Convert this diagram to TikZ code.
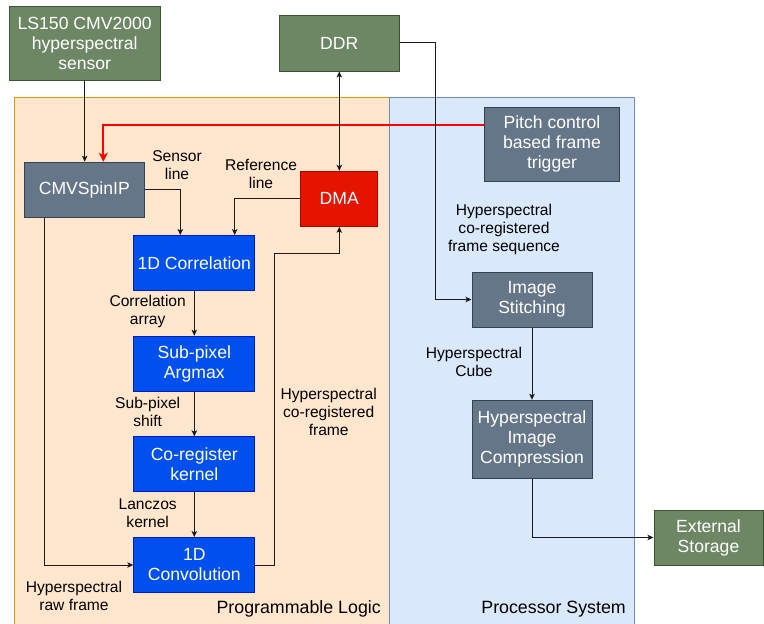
\documentclass[tikz,border=0pt]{standalone}
\usepackage{fontspec}
\setmainfont{Liberation Sans}
\usetikzlibrary{arrows.meta}

\definecolor{gfill}{HTML}{6D8764}
\definecolor{gline}{HTML}{3A5431}
\definecolor{sfill}{HTML}{647687}
\definecolor{sline}{HTML}{314354}
\definecolor{bfill}{HTML}{0050EF}
\definecolor{bline}{HTML}{001DBC}
\definecolor{rfill}{HTML}{E51400}
\definecolor{rline}{HTML}{B20000}
\definecolor{plfill}{HTML}{FFE6CC}
\definecolor{plline}{HTML}{D79B00}
\definecolor{psfill}{HTML}{DAE8FC}
\definecolor{psline}{HTML}{6C8EBF}
\definecolor{trig}{HTML}{FF0000}

\tikzset{
  blk/.style={rectangle, draw, line width=1pt, text=white, align=center,
    font=\fontsize{17.6}{20}\selectfont, inner sep=0pt},
  greenbox/.style={blk, fill=gfill, draw=gline},
  slatebox/.style={blk, fill=sfill, draw=sline},
  bluebox/.style={blk, fill=bfill, draw=bline, minimum width=121pt, minimum height=55pt},
  redbox/.style={blk, fill=rfill, draw=rline},
  lbl/.style={align=center, text=black, font=\fontsize{15.6}{18}\selectfont, inner sep=0pt},
  title/.style={text=black, font=\fontsize{17.8}{20}\selectfont, inner sep=0pt},
  conn/.style={draw=black!90, line width=0.9pt, -{Stealth[length=6pt,width=5.5pt,inset=1.5pt]}},
  biconn/.style={draw=black!90, line width=0.9pt, {Stealth[length=6pt,width=5.5pt,inset=1.5pt]}-{Stealth[length=6pt,width=5.5pt,inset=1.5pt]}},
  trigconn/.style={draw=trig, line width=2pt, -{Stealth[length=9pt,width=9pt,inset=2.5pt]}}
}

\begin{document}
\begin{tikzpicture}[x=1pt, y=-1pt]
\useasboundingbox (0,0) rectangle (764,624);

% regions
\fill[plfill] (14,97.5) rectangle (389,640);
\draw[plline, line width=1pt] (14,640) -- (14,97.5) -- (389,97.5) -- (389,640);
\fill[psfill] (389,97.5) rectangle (634,640);
\draw[psline, line width=1pt] (389,640) -- (389,97.5) -- (634,97.5) -- (634,640);
\node[title, anchor=east] (pltitle) at (381,609.3) {Programmable Logic};
\node[title, anchor=east] (pstitle) at (626,609.3) {Processor System};

% blocks
\node[greenbox, minimum width=151pt, minimum height=74pt] (sensor) at (84.7,43) {LS150 CMV2000\\hyperspectral\\sensor};
\node[greenbox, minimum width=120pt, minimum height=56pt] (ddr) at (339.3,43) {DDR};
\node[slatebox, minimum width=135pt, minimum height=74pt] (pitch) at (552,144) {Pitch control\\based frame\\trigger};
\node[slatebox, minimum width=120pt, minimum height=55pt] (cmv) at (84.3,189.7) {CMVSpinIP};
\node[redbox, minimum width=77pt, minimum height=55pt] (dma) at (339.3,198.8) {DMA};
\node[bluebox] (corr) at (194.3,263) {1D Correlation};
\node[bluebox] (argmax) at (194.3,363.7) {Sub-pixel\\Argmax};
\node[bluebox] (coreg) at (194.3,464.3) {Co-register\\kernel};
\node[bluebox] (conv) at (194.3,565) {1D\\Convolution};
\node[slatebox, minimum width=120pt, minimum height=55pt] (stitch) at (532,299.5) {Image\\Stitching};
\node[slatebox, minimum width=120pt, minimum height=78pt] (compress) at (532,439.3) {Hyperspectral\\Image\\Compression};
\node[greenbox, minimum width=109pt, minimum height=55pt] (ext) at (708.5,537.5) {External\\Storage};

% connector labels
\node[lbl] (lsensor) at (177,165) {Sensor\\line};
\node[lbl] (lref) at (261,174) {Reference\\line};
\node[lbl] (lcorr) at (147.7,311.5) {Correlation\\array};
\node[lbl] (lshift) at (147.7,412) {Sub-pixel\\shift};
\node[lbl] (llanc) at (147.7,513) {Lanczos\\kernel};
\node[lbl] (lraw) at (74,595.7) {Hyperspectral\\raw frame};
\node[lbl] (lcoframe) at (328.7,412.3) {Hyperspectral\\co-registered\\frame};
\node[lbl] (lseq) at (504,229.2) {Hyperspectral\\co-registered\\frame sequence};
\node[lbl] (lcube) at (474,362) {Hyperspectral\\Cube};

% connectors
\coordinate (trigbend) at (103.3,125.3);
\draw[trigconn] (pitch.west |- trigbend) -- (trigbend) -- (trigbend |- cmv.north);
\draw[conn] (sensor.south) -- (sensor.south |- cmv.north);
\draw[biconn] (ddr.south) -- (dma.north);
\draw[conn] (cmv.east) -| (180.3,0 |- corr.north);
\draw[conn] (dma.west) -| (234.7,0 |- corr.north);
\draw[conn] (corr) -- (argmax);
\draw[conn] (argmax) -- (coreg);
\draw[conn] (coreg) -- (conv);
\draw[conn] (44.3,0 |- cmv.south) |- (conv.west);
\coordinate (upbend) at (274.3,253.7);
\draw[conn] (conv.east) -| (upbend) -| (dma.south);
\coordinate (ddrbend) at (435.3,42.7);
\draw[conn] (ddr.east |- ddrbend) -- (ddrbend) |- (stitch.west);
\draw[conn] (stitch) -- (compress);
\draw[conn] (compress.south) |- (ext.west);
\end{tikzpicture}
\end{document}
